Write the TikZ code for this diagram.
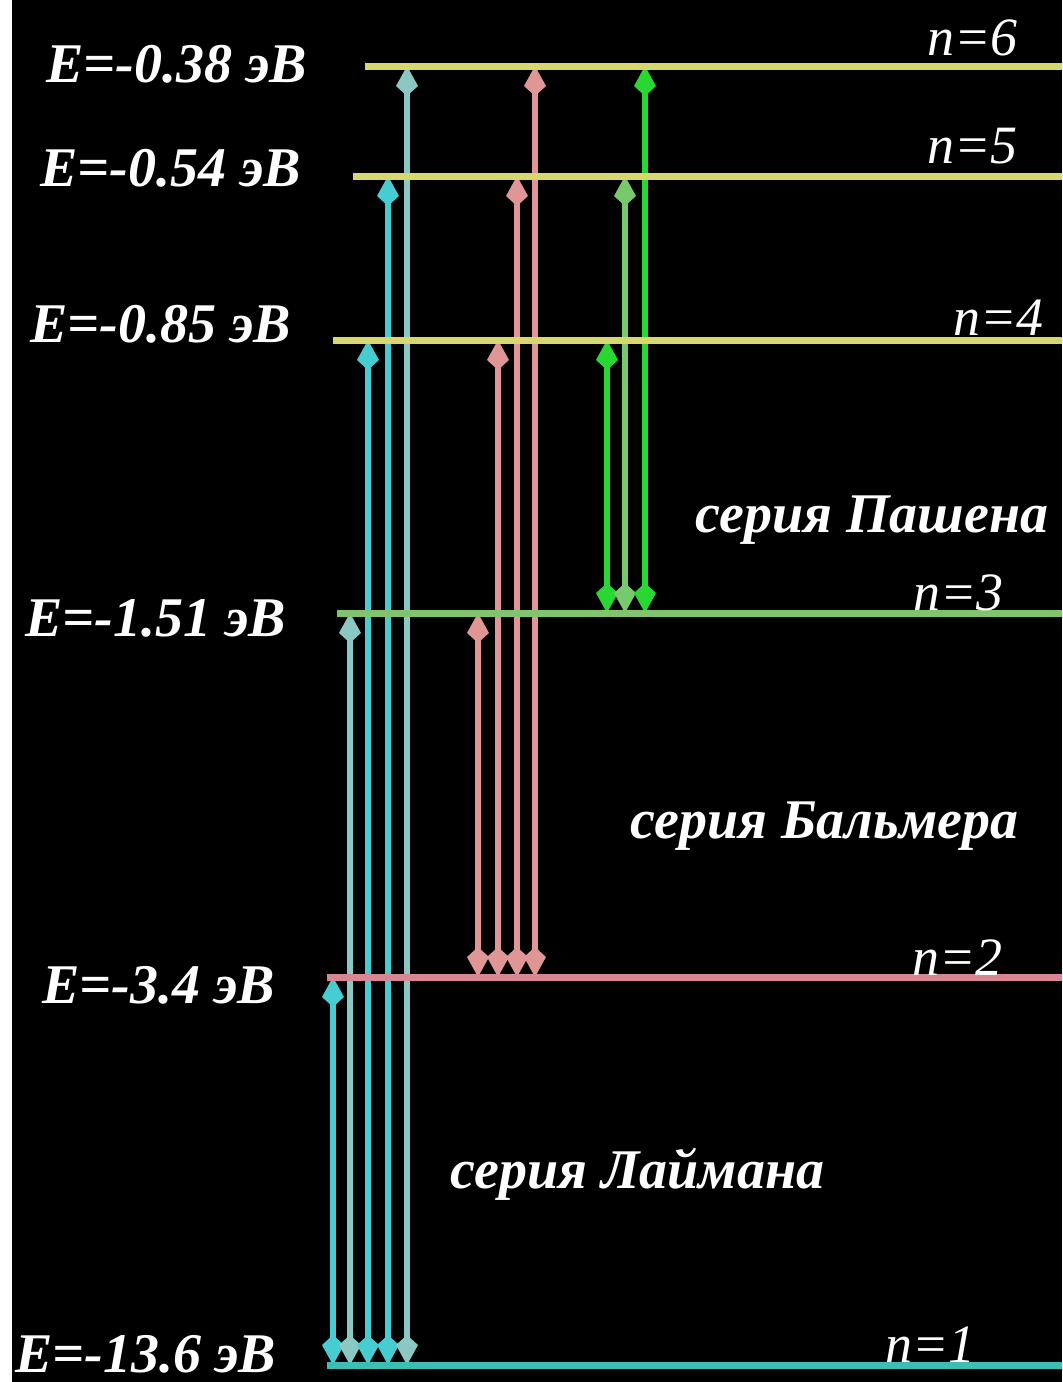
\documentclass[tikz,border=0pt]{standalone}
\usepackage{fontspec}
\setmainfont{Liberation Serif}
\usetikzlibrary{arrows.meta,positioning}
\definecolor{lvlyellow}{RGB}{215,215,110}
\definecolor{lvlgreen}{RGB}{130,195,110}
\definecolor{lvlpink}{RGB}{215,135,145}
\definecolor{lvlcyan}{RGB}{60,190,180}
\definecolor{lymA}{RGB}{70,205,210}
\definecolor{lymB}{RGB}{140,200,195}
\definecolor{balm}{RGB}{225,150,150}
\definecolor{pasA}{RGB}{40,215,50}
\definecolor{pasB}{RGB}{120,200,110}

\begin{document}
\begin{tikzpicture}[x=0.5pt,y=-0.5pt,
  level/.style={line width=3.5pt},
  trans/.style={line width=2.6pt,
    {Kite[length=15pt,width=11pt,inset=5pt]}-{Kite[length=15pt,width=11pt,inset=5pt]}},
  elabel/.style={white,anchor=base west,inner sep=0pt,
    font=\fontsize{28}{31}\selectfont\bfseries\itshape},
  nlabel/.style={white,anchor=base west,inner sep=0pt,
    font=\fontsize{27}{30}\selectfont\itshape}]
  % background
  \useasboundingbox (0,0) rectangle (1062,1382);
  \fill[white] (0,0) rectangle (1062,1382);
  \fill[black] (12,0) rectangle (1062,1382);
  % levels
  \coordinate (rEdge) at (1062,0);
  \coordinate (lev6) at (365,66);
  \coordinate (lev5) at (353,176);
  \coordinate (lev4) at (333,340);
  \coordinate (lev3) at (337,613);
  \coordinate (lev2) at (327,977);
  \coordinate (lev1) at (327,1365);
  % transitions
  \foreach \x/\n/\c in {333/2/lymA,350/3/lymB,368/4/lymA,388/5/lymA,407/6/lymB}
    \draw[trans,\c] (\x,0 |- lev1) -- (\x,0 |- lev\n);
  \foreach \x/\n in {478/3,498/4,517/5,535/6}
    \draw[trans,balm] (\x,0 |- lev2) -- (\x,0 |- lev\n);
  \foreach \x/\n/\c in {607/4/pasA,625/5/pasB,645/6/pasA}
    \draw[trans,\c] (\x,0 |- lev3) -- (\x,0 |- lev\n);
  \foreach \n/\c in {6/lvlyellow,5/lvlyellow,4/lvlyellow,3/lvlgreen,2/lvlpink,1/lvlcyan}
    \draw[level,\c] (lev\n) -- (lev\n -| rEdge);
  % energies
  \node[elabel] (e6) at (46,82) {E=-0.38 эВ};
  \node[elabel] (e5) at (40,186) {E=-0.54 эВ};
  \node[elabel] (e4) at (30,342) {E=-0.85 эВ};
  \node[elabel] (e3) at (25,636) {E=-1.51 эВ};
  \node[elabel] (e2) at (42,1003) {E=-3.4 эВ};
  \node[elabel] (e1) at (15,1372) {E=-13.6 эВ};
  % quantum numbers
  \node[nlabel] (n6) at (927,55) {n=6};
  \node[nlabel] (n5) at (927,163) {n=5};
  \node[nlabel] (n4) at (953,335) {n=4};
  \node[nlabel] (n3) at (913,610) {n=3};
  \node[nlabel] (n2) at (912,975) {n=2};
  \node[nlabel] (n1) at (885,1362) {n=1};
  % series
  \node[elabel] (sPas) at (695,532) {серия Пашена};
  \node[elabel] (sBal) at (630,838) {серия Бальмера};
  \node[elabel] (sLym) at (450,1188) {серия Лаймана};
\end{tikzpicture}
\end{document}
